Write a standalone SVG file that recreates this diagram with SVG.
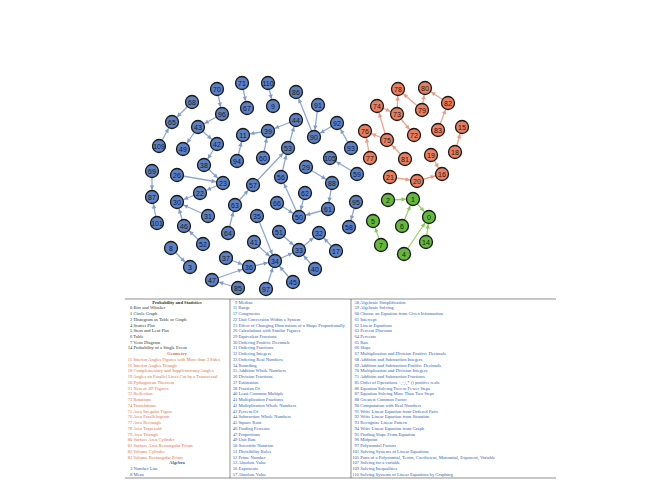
<svg xmlns="http://www.w3.org/2000/svg" width="666" height="495" viewBox="0 0 666 495">
<style>
.eb{stroke:#8fa8d6;stroke-width:1.3;fill:none}
.er{stroke:#f0a48c;stroke-width:1.3;fill:none}
.eg{stroke:#9dd270;stroke-width:1.3;fill:none}
circle{stroke:#1a1a1a;stroke-width:1.3}
.nb circle{fill:#5b80c6}
.nr circle{fill:#ec7d5d}
.ng circle{fill:#63b93a}
.nb text,.nr text,.ng text{font-family:"Liberation Sans",Arial,sans-serif;font-size:7px;fill:#1a1a1a;text-anchor:middle}
.lg text{font-family:"Liberation Serif","Times New Roman",serif;font-size:4.6px}
.p{fill:#2b3a25}.g{fill:#e2704a}.a{fill:#2f62b5}
.h{text-anchor:middle;font-weight:bold}
.rule{stroke:#444;stroke-width:0.6}
</style>
<defs>
<marker id="ab" markerUnits="userSpaceOnUse" viewBox="-12 -3 12 6" markerWidth="12" markerHeight="6" refX="0" refY="0" orient="auto"><path d="M-11.5,-2.2 L-7.2,0 L-11.5,2.2 Z" fill="#7f9bd0"/></marker>
<marker id="ar" markerUnits="userSpaceOnUse" viewBox="-12 -3 12 6" markerWidth="12" markerHeight="6" refX="0" refY="0" orient="auto"><path d="M-11.5,-2.2 L-7.2,0 L-11.5,2.2 Z" fill="#ee9a80"/></marker>
<marker id="ag" markerUnits="userSpaceOnUse" viewBox="-12 -3 12 6" markerWidth="12" markerHeight="6" refX="0" refY="0" orient="auto"><path d="M-11.5,-2.2 L-7.2,0 L-11.5,2.2 Z" fill="#8ccb5a"/></marker>
</defs>
<g id="edges">
<g class="eb" marker-end="url(#ab)">
<line x1="217" y1="89" x2="222" y2="114"/>
<line x1="242" y1="83" x2="247" y2="108"/>
<line x1="192" y1="102" x2="172" y2="122"/>
<line x1="222" y1="114" x2="198" y2="127"/>
<line x1="198" y1="127" x2="183" y2="149"/>
<line x1="198" y1="127" x2="217" y2="144"/>
<line x1="217" y1="144" x2="204" y2="165"/>
<line x1="159" y1="146" x2="172" y2="122"/>
<line x1="237" y1="161" x2="243" y2="135"/>
<line x1="268" y1="131" x2="243" y2="135"/>
<line x1="204" y1="165" x2="223" y2="183"/>
<line x1="177" y1="175" x2="223" y2="183"/>
<line x1="223" y1="183" x2="200" y2="193"/>
<line x1="152" y1="171" x2="152" y2="197"/>
<line x1="157" y1="223" x2="152" y2="197"/>
<line x1="268" y1="83" x2="273" y2="106"/>
<line x1="314" y1="137" x2="296" y2="92"/>
<line x1="318" y1="105" x2="314" y2="137"/>
<line x1="337" y1="123" x2="314" y2="137"/>
<line x1="351" y1="148" x2="337" y2="123"/>
<line x1="296" y1="120" x2="268" y2="131"/>
<line x1="288" y1="148" x2="296" y2="120"/>
<line x1="263" y1="158" x2="268" y2="131"/>
<line x1="357" y1="174" x2="330" y2="158"/>
<line x1="253" y1="185" x2="288" y2="148"/>
<line x1="281" y1="177" x2="288" y2="148"/>
<line x1="299" y1="217" x2="281" y2="177"/>
<line x1="305" y1="193" x2="299" y2="217"/>
<line x1="277" y1="203" x2="299" y2="217"/>
<line x1="328" y1="209" x2="299" y2="217"/>
<line x1="332" y1="183" x2="328" y2="209"/>
<line x1="306" y1="167" x2="332" y2="183"/>
<line x1="356" y1="202" x2="349" y2="227"/>
<line x1="257" y1="216" x2="275" y2="261"/>
<line x1="254" y1="242" x2="275" y2="261"/>
<line x1="249" y1="267" x2="275" y2="261"/>
<line x1="293" y1="282" x2="275" y2="261"/>
<line x1="266" y1="289" x2="275" y2="261"/>
<line x1="275" y1="261" x2="299" y2="250"/>
<line x1="279" y1="232" x2="299" y2="250"/>
<line x1="315" y1="269" x2="299" y2="250"/>
<line x1="299" y1="250" x2="319" y2="233"/>
<line x1="336" y1="251" x2="319" y2="233"/>
<line x1="200" y1="193" x2="177" y2="202"/>
<line x1="208" y1="216" x2="177" y2="202"/>
<line x1="184" y1="226" x2="177" y2="202"/>
<line x1="203" y1="244" x2="184" y2="226"/>
<line x1="228" y1="233" x2="235" y2="205"/>
<line x1="235" y1="205" x2="253" y2="185"/>
<line x1="171" y1="248" x2="190" y2="267"/>
<line x1="226" y1="258" x2="249" y2="267"/>
<line x1="212" y1="280" x2="249" y2="267"/>
<line x1="238" y1="288" x2="212" y2="280"/>
</g>
<g class="er" marker-end="url(#ar)">
<line x1="397" y1="114" x2="398" y2="89"/>
<line x1="377" y1="106" x2="397" y2="114"/>
<line x1="422" y1="110" x2="398" y2="89"/>
<line x1="422" y1="110" x2="425" y2="88"/>
<line x1="448" y1="103" x2="425" y2="88"/>
<line x1="438" y1="130" x2="448" y2="103"/>
<line x1="397" y1="114" x2="414" y2="135"/>
<line x1="387" y1="140" x2="377" y2="106"/>
<line x1="387" y1="140" x2="365" y2="131"/>
<line x1="370" y1="158" x2="365" y2="131"/>
<line x1="405" y1="159" x2="387" y2="140"/>
<line x1="431" y1="155" x2="442" y2="174"/>
<line x1="455" y1="152" x2="462" y2="127"/>
<line x1="390" y1="177" x2="417" y2="181"/>
<line x1="417" y1="181" x2="442" y2="174"/>
</g>
<g class="eg" marker-end="url(#ag)">
<line x1="388" y1="200" x2="413" y2="199"/>
<line x1="402" y1="226" x2="413" y2="199"/>
<line x1="413" y1="199" x2="429" y2="217"/>
<line x1="381" y1="245" x2="373" y2="221"/>
<line x1="404" y1="254" x2="429" y2="217"/>
<line x1="426" y1="242" x2="429" y2="217"/>
</g>
</g>
<g id="nodes">
<g id="n70" class="nb"><circle cx="217" cy="89" r="6.5"/><text x="217" y="91.5">70</text></g>
<g id="n71" class="nb"><circle cx="242" cy="83" r="6.5"/><text x="242" y="85.5">71</text></g>
<g id="n68" class="nb"><circle cx="192" cy="102" r="6.5"/><text x="192" y="104.5">68</text></g>
<g id="n67" class="nb"><circle cx="247" cy="108" r="6.5"/><text x="247" y="110.5">67</text></g>
<g id="n96" class="nb"><circle cx="222" cy="114" r="6.5"/><text x="222" y="116.5">96</text></g>
<g id="n65" class="nb"><circle cx="172" cy="122" r="6.5"/><text x="172" y="124.5">65</text></g>
<g id="n43" class="nb"><circle cx="198" cy="127" r="6.5"/><text x="198" y="129.5">43</text></g>
<g id="n11" class="nb"><circle cx="243" cy="135" r="6.5"/><text x="243" y="137.5">11</text></g>
<g id="n109" class="nb"><circle cx="159" cy="146" r="6.5"/><text x="159" y="148.5">109</text></g>
<g id="n49" class="nb"><circle cx="183" cy="149" r="6.5"/><text x="183" y="151.5">49</text></g>
<g id="n42" class="nb"><circle cx="217" cy="144" r="6.5"/><text x="217" y="146.5">42</text></g>
<g id="n94" class="nb"><circle cx="237" cy="161" r="6.5"/><text x="237" y="163.5">94</text></g>
<g id="n38" class="nb"><circle cx="204" cy="165" r="6.5"/><text x="204" y="167.5">38</text></g>
<g id="n69" class="nb"><circle cx="152" cy="171" r="6.5"/><text x="152" y="173.5">69</text></g>
<g id="n26" class="nb"><circle cx="177" cy="175" r="6.5"/><text x="177" y="177.5">26</text></g>
<g id="n23" class="nb"><circle cx="223" cy="183" r="6.5"/><text x="223" y="185.5">23</text></g>
<g id="n57" class="nb"><circle cx="253" cy="185" r="6.5"/><text x="253" y="187.5">57</text></g>
<g id="n87" class="nb"><circle cx="152" cy="197" r="6.5"/><text x="152" y="199.5">87</text></g>
<g id="n22" class="nb"><circle cx="200" cy="193" r="6.5"/><text x="200" y="195.5">22</text></g>
<g id="n30" class="nb"><circle cx="177" cy="202" r="6.5"/><text x="177" y="204.5">30</text></g>
<g id="n63" class="nb"><circle cx="235" cy="205" r="6.5"/><text x="235" y="207.5">63</text></g>
<g id="n31" class="nb"><circle cx="208" cy="216" r="6.5"/><text x="208" y="218.5">31</text></g>
<g id="n101" class="nb"><circle cx="157" cy="223" r="6.5"/><text x="157" y="225.5">101</text></g>
<g id="n46" class="nb"><circle cx="184" cy="226" r="6.5"/><text x="184" y="228.5">46</text></g>
<g id="n64" class="nb"><circle cx="228" cy="233" r="6.5"/><text x="228" y="235.5">64</text></g>
<g id="n52" class="nb"><circle cx="203" cy="244" r="6.5"/><text x="203" y="246.5">52</text></g>
<g id="n8" class="nb"><circle cx="171" cy="248" r="6.5"/><text x="171" y="250.5">8</text></g>
<g id="n37" class="nb"><circle cx="226" cy="258" r="6.5"/><text x="226" y="260.5">37</text></g>
<g id="n3" class="nb"><circle cx="190" cy="267" r="6.5"/><text x="190" y="269.5">3</text></g>
<g id="n36" class="nb"><circle cx="249" cy="267" r="6.5"/><text x="249" y="269.5">36</text></g>
<g id="n47" class="nb"><circle cx="212" cy="280" r="6.5"/><text x="212" y="282.5">47</text></g>
<g id="n85" class="nb"><circle cx="238" cy="288" r="6.5"/><text x="238" y="290.5">85</text></g>
<g id="n110" class="nb"><circle cx="268" cy="83" r="6.5"/><text x="268" y="85.5">110</text></g>
<g id="n86" class="nb"><circle cx="296" cy="92" r="6.5"/><text x="296" y="94.5">86</text></g>
<g id="n9" class="nb"><circle cx="273" cy="106" r="6.5"/><text x="273" y="108.5">9</text></g>
<g id="n91" class="nb"><circle cx="318" cy="105" r="6.5"/><text x="318" y="107.5">91</text></g>
<g id="n44" class="nb"><circle cx="296" cy="120" r="6.5"/><text x="296" y="122.5">44</text></g>
<g id="n92" class="nb"><circle cx="337" cy="123" r="6.5"/><text x="337" y="125.5">92</text></g>
<g id="n39" class="nb"><circle cx="268" cy="131" r="6.5"/><text x="268" y="133.5">39</text></g>
<g id="n90" class="nb"><circle cx="314" cy="137" r="6.5"/><text x="314" y="139.5">90</text></g>
<g id="n93" class="nb"><circle cx="351" cy="148" r="6.5"/><text x="351" y="150.5">93</text></g>
<g id="n53" class="nb"><circle cx="288" cy="148" r="6.5"/><text x="288" y="150.5">53</text></g>
<g id="n60" class="nb"><circle cx="263" cy="158" r="6.5"/><text x="263" y="160.5">60</text></g>
<g id="n105" class="nb"><circle cx="330" cy="158" r="6.5"/><text x="330" y="160.5">105</text></g>
<g id="n29" class="nb"><circle cx="306" cy="167" r="6.5"/><text x="306" y="169.5">29</text></g>
<g id="n59" class="nb"><circle cx="357" cy="174" r="6.5"/><text x="357" y="176.5">59</text></g>
<g id="n56" class="nb"><circle cx="281" cy="177" r="6.5"/><text x="281" y="179.5">56</text></g>
<g id="n88" class="nb"><circle cx="332" cy="183" r="6.5"/><text x="332" y="185.5">88</text></g>
<g id="n62" class="nb"><circle cx="305" cy="193" r="6.5"/><text x="305" y="195.5">62</text></g>
<g id="n66" class="nb"><circle cx="277" cy="203" r="6.5"/><text x="277" y="205.5">66</text></g>
<g id="n95" class="nb"><circle cx="356" cy="202" r="6.5"/><text x="356" y="204.5">95</text></g>
<g id="n50" class="nb"><circle cx="299" cy="217" r="6.5"/><text x="299" y="219.5">50</text></g>
<g id="n61" class="nb"><circle cx="328" cy="209" r="6.5"/><text x="328" y="211.5">61</text></g>
<g id="n35" class="nb"><circle cx="257" cy="216" r="6.5"/><text x="257" y="218.5">35</text></g>
<g id="n58" class="nb"><circle cx="349" cy="227" r="6.5"/><text x="349" y="229.5">58</text></g>
<g id="n51" class="nb"><circle cx="279" cy="232" r="6.5"/><text x="279" y="234.5">51</text></g>
<g id="n32" class="nb"><circle cx="319" cy="233" r="6.5"/><text x="319" y="235.5">32</text></g>
<g id="n41" class="nb"><circle cx="254" cy="242" r="6.5"/><text x="254" y="244.5">41</text></g>
<g id="n33" class="nb"><circle cx="299" cy="250" r="6.5"/><text x="299" y="252.5">33</text></g>
<g id="n17" class="nb"><circle cx="336" cy="251" r="6.5"/><text x="336" y="253.5">17</text></g>
<g id="n34" class="nb"><circle cx="275" cy="261" r="6.5"/><text x="275" y="263.5">34</text></g>
<g id="n40" class="nb"><circle cx="315" cy="269" r="6.5"/><text x="315" y="271.5">40</text></g>
<g id="n45" class="nb"><circle cx="293" cy="282" r="6.5"/><text x="293" y="284.5">45</text></g>
<g id="n97" class="nb"><circle cx="266" cy="289" r="6.5"/><text x="266" y="291.5">97</text></g>
<g id="n78" class="nr"><circle cx="398" cy="89" r="6.5"/><text x="398" y="91.5">78</text></g>
<g id="n80" class="nr"><circle cx="425" cy="88" r="6.5"/><text x="425" y="90.5">80</text></g>
<g id="n74" class="nr"><circle cx="377" cy="106" r="6.5"/><text x="377" y="108.5">74</text></g>
<g id="n73" class="nr"><circle cx="397" cy="114" r="6.5"/><text x="397" y="116.5">73</text></g>
<g id="n79" class="nr"><circle cx="422" cy="110" r="6.5"/><text x="422" y="112.5">79</text></g>
<g id="n82" class="nr"><circle cx="448" cy="103" r="6.5"/><text x="448" y="105.5">82</text></g>
<g id="n76" class="nr"><circle cx="365" cy="131" r="6.5"/><text x="365" y="133.5">76</text></g>
<g id="n72" class="nr"><circle cx="414" cy="135" r="6.5"/><text x="414" y="137.5">72</text></g>
<g id="n83" class="nr"><circle cx="438" cy="130" r="6.5"/><text x="438" y="132.5">83</text></g>
<g id="n15" class="nr"><circle cx="462" cy="127" r="6.5"/><text x="462" y="129.5">15</text></g>
<g id="n75" class="nr"><circle cx="387" cy="140" r="6.5"/><text x="387" y="142.5">75</text></g>
<g id="n77" class="nr"><circle cx="370" cy="158" r="6.5"/><text x="370" y="160.5">77</text></g>
<g id="n81" class="nr"><circle cx="405" cy="159" r="6.5"/><text x="405" y="161.5">81</text></g>
<g id="n19" class="nr"><circle cx="431" cy="155" r="6.5"/><text x="431" y="157.5">19</text></g>
<g id="n18" class="nr"><circle cx="455" cy="152" r="6.5"/><text x="455" y="154.5">18</text></g>
<g id="n21" class="nr"><circle cx="390" cy="177" r="6.5"/><text x="390" y="179.5">21</text></g>
<g id="n20" class="nr"><circle cx="417" cy="181" r="6.5"/><text x="417" y="183.5">20</text></g>
<g id="n16" class="nr"><circle cx="442" cy="174" r="6.5"/><text x="442" y="176.5">16</text></g>
<g id="n2" class="ng"><circle cx="388" cy="200" r="6.5"/><text x="388" y="202.5">2</text></g>
<g id="n1" class="ng"><circle cx="413" cy="199" r="6.5"/><text x="413" y="201.5">1</text></g>
<g id="n5" class="ng"><circle cx="373" cy="221" r="6.5"/><text x="373" y="223.5">5</text></g>
<g id="n6" class="ng"><circle cx="402" cy="226" r="6.5"/><text x="402" y="228.5">6</text></g>
<g id="n0" class="ng"><circle cx="429" cy="217" r="6.5"/><text x="429" y="219.5">0</text></g>
<g id="n7" class="ng"><circle cx="381" cy="245" r="6.5"/><text x="381" y="247.5">7</text></g>
<g id="n14" class="ng"><circle cx="426" cy="242" r="6.5"/><text x="426" y="244.5">14</text></g>
<g id="n4" class="ng"><circle cx="404" cy="254" r="6.5"/><text x="404" y="256.5">4</text></g>
</g>
<g id="legend" class="lg">
<line class="rule" x1="125" y1="299" x2="556" y2="299"/>
<line class="rule" x1="125" y1="478" x2="556" y2="478"/>
<line class="rule" x1="230" y1="299" x2="230" y2="478"/>
<line class="rule" x1="351" y1="299" x2="351" y2="478"/>
<text class="p h" x="177" y="303.5">Probability and Statistics</text>
<text class="p" x="130" y="309.2">0 Box and Whisker</text>
<text class="p" x="130" y="315">1 Circle Graph</text>
<text class="p" x="130" y="320.7">2 Histogram as Table or Graph</text>
<text class="p" x="130" y="326.5">4 Scatter Plot</text>
<text class="p" x="130" y="332.2">5 Stem and Leaf Plot</text>
<text class="p" x="130" y="337.9">6 Table</text>
<text class="p" x="130" y="343.7">7 Venn Diagram</text>
<text class="p" x="127.7" y="349.4">14 Probability of a Single Event</text>
<text class="g h" x="177" y="355.2">Geometry</text>
<text class="g" x="127.7" y="360.9">15 Interior Angles Figures with More than 3 Sides</text>
<text class="g" x="127.7" y="366.6">16 Interior Angles Triangle</text>
<text class="g" x="127.7" y="372.4">18 Complementary and Supplementary Angles</text>
<text class="g" x="127.7" y="378.1">19 Angles on Parallel Lines Cut by a Transversal</text>
<text class="g" x="127.7" y="383.9">20 Pythagorean Theorem</text>
<text class="g" x="127.7" y="389.6">21 Nets of 3D Figures</text>
<text class="g" x="127.7" y="395.3">72 Reflection</text>
<text class="g" x="127.7" y="401.1">73 Rotations</text>
<text class="g" x="127.7" y="406.8">74 Translations</text>
<text class="g" x="127.7" y="412.6">75 Area Irregular Figure</text>
<text class="g" x="127.7" y="418.3">76 Area Parallelogram</text>
<text class="g" x="127.7" y="424">77 Area Rectangle</text>
<text class="g" x="127.7" y="429.8">78 Area Trapezoid</text>
<text class="g" x="127.7" y="435.5">79 Area Triangle</text>
<text class="g" x="127.7" y="441.3">80 Surface Area Cylinder</text>
<text class="g" x="127.7" y="447">81 Surface Area Rectangular Prism</text>
<text class="g" x="127.7" y="452.7">82 Volume Cylinder</text>
<text class="g" x="127.7" y="458.5">83 Volume Rectangular Prism</text>
<text class="a h" x="177" y="464.2">Algebra</text>
<text class="a" x="130" y="470">3 Number Line</text>
<text class="a" x="130" y="475.7">8 Mean</text>
<text class="a" x="235" y="303.5">9 Median</text>
<text class="a" x="232.7" y="309.2">11 Range</text>
<text class="a" x="232.7" y="315">17 Congruence</text>
<text class="a" x="232.7" y="320.7">22 Unit Conversion Within a System</text>
<text class="a" x="232.7" y="326.5">23 Effect of Changing Dimensions of a Shape Proportionally</text>
<text class="a" x="232.7" y="332.2">26 Calculations with Similar Figures</text>
<text class="a" x="232.7" y="337.9">29 Equivalent Fractions</text>
<text class="a" x="232.7" y="343.7">30 Ordering Positive Decimals</text>
<text class="a" x="232.7" y="349.4">31 Ordering Fractions</text>
<text class="a" x="232.7" y="355.2">32 Ordering Integers</text>
<text class="a" x="232.7" y="360.9">33 Ordering Real Numbers</text>
<text class="a" x="232.7" y="366.6">34 Rounding</text>
<text class="a" x="232.7" y="372.4">35 Addition Whole Numbers</text>
<text class="a" x="232.7" y="378.1">36 Division Fractions</text>
<text class="a" x="232.7" y="383.9">37 Estimation</text>
<text class="a" x="232.7" y="389.6">38 Fraction Of</text>
<text class="a" x="232.7" y="395.3">40 Least Common Multiple</text>
<text class="a" x="232.7" y="401.1">41 Multiplication Fractions</text>
<text class="a" x="232.7" y="406.8">42 Multiplication Whole Numbers</text>
<text class="a" x="232.7" y="412.6">43 Percent Of</text>
<text class="a" x="232.7" y="418.3">44 Subtraction Whole Numbers</text>
<text class="a" x="232.7" y="424">45 Square Root</text>
<text class="a" x="232.7" y="429.8">46 Finding Percents</text>
<text class="a" x="232.7" y="435.5">47 Proportions</text>
<text class="a" x="232.7" y="441.3">49 Unit Rate</text>
<text class="a" x="232.7" y="447">50 Scientific Notation</text>
<text class="a" x="232.7" y="452.7">51 Divisibility Rules</text>
<text class="a" x="232.7" y="458.5">52 Prime Number</text>
<text class="a" x="232.7" y="464.2">53 Absolute Value</text>
<text class="a" x="232.7" y="470">56 Exponents</text>
<text class="a" x="232.7" y="475.7">57 Absolute Value</text>
<text class="a" x="354.5" y="303.5">58 Algebraic Simplification</text>
<text class="a" x="354.5" y="309.2">59 Algebraic Solving</text>
<text class="a" x="354.5" y="315">60 Choose an Equation from Given Information</text>
<text class="a" x="354.5" y="320.7">61 Intercept</text>
<text class="a" x="354.5" y="326.5">62 Linear Equations</text>
<text class="a" x="354.5" y="332.2">63 Percent Discount</text>
<text class="a" x="354.5" y="337.9">64 Percents</text>
<text class="a" x="354.5" y="343.7">65 Rate</text>
<text class="a" x="354.5" y="349.4">66 Slope</text>
<text class="a" x="354.5" y="355.2">67 Multiplication and Division Positive Decimals</text>
<text class="a" x="354.5" y="360.9">68 Addition and Subtraction Integers</text>
<text class="a" x="354.5" y="366.6">69 Addition and Subtraction Positive Decimals</text>
<text class="a" x="354.5" y="372.4">70 Multiplication and Division Integers</text>
<text class="a" x="354.5" y="378.1">71 Addition and Subtraction Fractions</text>
<text class="a" x="354.5" y="383.9">85 Order of Operations +,-,/,* () positive reals</text>
<text class="a" x="354.5" y="389.6">86 Equation Solving Two or Fewer Steps</text>
<text class="a" x="354.5" y="395.3">87 Equation Solving More Than Two Steps</text>
<text class="a" x="354.5" y="401.1">88 Greatest Common Factor</text>
<text class="a" x="354.5" y="406.8">90 Computation with Real Numbers</text>
<text class="a" x="354.5" y="412.6">91 Write Linear Equation from Ordered Pairs</text>
<text class="a" x="354.5" y="418.3">92 Write Linear Equation from Situation</text>
<text class="a" x="354.5" y="424">93 Recognize Linear Pattern</text>
<text class="a" x="354.5" y="429.8">94 Write Linear Equation from Graph</text>
<text class="a" x="354.5" y="435.5">95 Finding Slope From Equation</text>
<text class="a" x="354.5" y="441.3">96 Midpoint</text>
<text class="a" x="354.5" y="447">97 Polynomial Factors</text>
<text class="a" x="352.2" y="452.7">101 Solving Systems of Linear Equations</text>
<text class="a" x="352.2" y="458.5">105 Parts of a Polynomial, Terms, Coefficient, Monomial, Exponent, Variable</text>
<text class="a" x="352.2" y="464.2">107 Solving for a variable</text>
<text class="a" x="352.2" y="470">109 Solving Inequalities</text>
<text class="a" x="352.2" y="475.7">110 Solving Systems of Linear Equations by Graphing</text>
</g>
</svg>
